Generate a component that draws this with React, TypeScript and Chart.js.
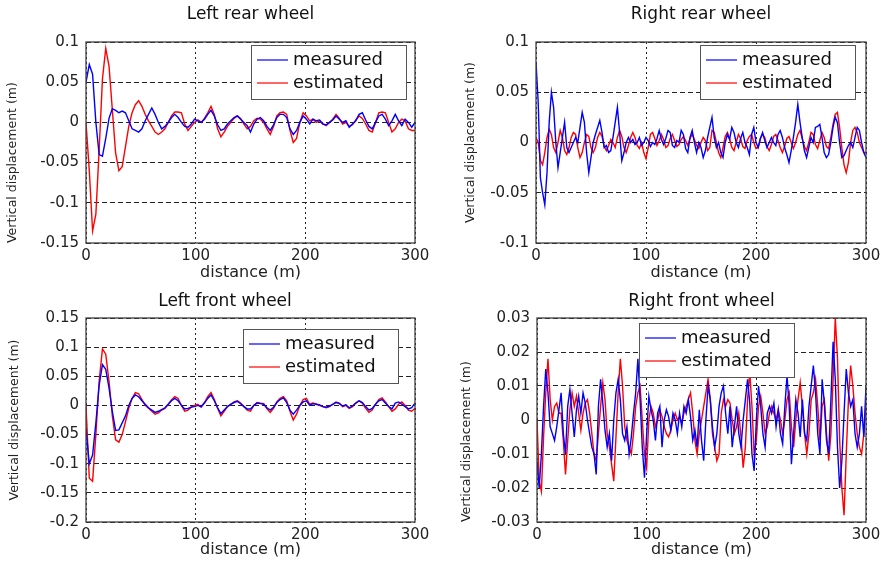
import React, { useEffect, useRef } from 'react';
import { Chart, registerables } from 'chart.js';

Chart.register(...registerables);

// ---------------- DATA ----------------
const DIST_3M = [
  0, 3, 6, 9, 12, 15, 18, 21, 24, 27, 30, 33, 36, 39, 42, 45, 48, 51, 54, 57,
  60, 63, 66, 69, 72, 75, 78, 81, 84, 87, 90, 93, 96, 99, 102, 105, 108, 111, 114, 117,
  120, 123, 126, 129, 132, 135, 138, 141, 144, 147, 150, 153, 156, 159, 162, 165, 168, 171, 174, 177,
  180, 183, 186, 189, 192, 195, 198, 201, 204, 207, 210, 213, 216, 219, 222, 225, 228, 231, 234, 237,
  240, 243, 246, 249, 252, 255, 258, 261, 264, 267, 270, 273, 276, 279, 282, 285, 288, 291, 294, 297,
  300,
];

const DIST_2M = [
  0, 2, 4, 6, 8, 10, 12, 14, 16, 18, 20, 22, 24, 26, 28, 30, 32, 34, 36, 38,
  40, 42, 44, 46, 48, 50, 52, 54, 56, 58, 60, 62, 64, 66, 68, 70, 72, 74, 76, 78,
  80, 82, 84, 86, 88, 90, 92, 94, 96, 98, 100, 102, 104, 106, 108, 110, 112, 114, 116, 118,
  120, 122, 124, 126, 128, 130, 132, 134, 136, 138, 140, 142, 144, 146, 148, 150, 152, 154, 156, 158,
  160, 162, 164, 166, 168, 170, 172, 174, 176, 178, 180, 182, 184, 186, 188, 190, 192, 194, 196, 198,
  200, 202, 204, 206, 208, 210, 212, 214, 216, 218, 220, 222, 224, 226, 228, 230, 232, 234, 236, 238,
  240, 242, 244, 246, 248, 250, 252, 254, 256, 258, 260, 262, 264, 266, 268, 270, 272, 274, 276, 278,
  280, 282, 284, 286, 288, 290, 292, 294, 296, 298, 300,
];

// Left rear wheel (3 m spacing)
const LR_MEASURED = [
  0.05, 0.072, 0.06, 0.0, -0.04, -0.042, -0.02, 0.005, 0.017, 0.015,
  0.012, 0.014, 0.012, 0.002, -0.008, -0.01, -0.012, -0.008, 0.002, 0.01,
  0.018, 0.01, 0.0, -0.008, -0.005, 0.0, 0.006, 0.01, 0.006, 0.0,
  -0.005, -0.006, -0.002, 0.004, 0.002, 0.0, 0.004, 0.01, 0.015, 0.008,
  -0.003, -0.01, -0.008, -0.002, 0.002, 0.006, 0.008, 0.004, 0.0, -0.004,
  -0.012, -0.002, 0.004, 0.006, 0.002, -0.005, -0.01, -0.003, 0.006, 0.01,
  0.01, 0.006, -0.008, -0.015, -0.01, 0.0, 0.008, 0.004, -0.002, 0.004,
  0.002, 0.003, -0.002, -0.003, 0.0, 0.003, 0.008, 0.004, 0.0, 0.002,
  -0.006, -0.002, 0.002, 0.01, 0.012, 0.003, -0.005, -0.008, 0.0, 0.008,
  0.01, 0.004, -0.004, 0.002, 0.01, 0.002, -0.004, 0.004, 0.0, -0.006,
  0.0,
];
const LR_ESTIMATED = [
  0.0, -0.06, -0.135, -0.114, -0.034, 0.054, 0.092, 0.07, 0.016, -0.038,
  -0.06, -0.055, -0.03, -0.005, 0.012, 0.022, 0.027, 0.02, 0.01, 0.002,
  -0.005, -0.012, -0.015, -0.012, -0.008, 0.0, 0.008, 0.013, 0.013, 0.012,
  -0.002, -0.01, -0.005, 0.0, 0.003, 0.0, 0.005, 0.012, 0.02, 0.01,
  -0.008, -0.018, -0.012, -0.005, 0.0, 0.005, 0.008, 0.005, -0.002, -0.008,
  -0.005, 0.002, 0.005, 0.004, 0.0, -0.008, -0.015, -0.005, 0.008, 0.012,
  0.013, 0.01, -0.01, -0.025, -0.02, 0.0, 0.012, 0.008, 0.002, 0.004,
  0.0, 0.002, -0.002, -0.004, 0.0, 0.004, 0.01, 0.005, -0.002, 0.0,
  -0.005, -0.003, 0.003, 0.008, 0.005, -0.002, -0.01, -0.012, 0.0, 0.012,
  0.013, 0.012, 0.0, -0.012, -0.008, 0.0, 0.004, 0.002, -0.008, -0.01,
  -0.01,
];

// Right rear wheel (2 m spacing)
const RR_MEASURED = [
  0.08, 0.04, -0.035, -0.05, -0.062, -0.03, 0.02, 0.05, 0.035, 0.0,
  -0.025, -0.01, 0.005, 0.02, -0.005, -0.01, -0.005, 0.0, 0.005, 0.0,
  0.015, 0.03, 0.02, -0.01, -0.03, -0.015, 0.0, 0.008, 0.015, 0.022,
  0.01, -0.005, -0.003, -0.01, -0.008, 0.005, 0.02, 0.035, 0.01, -0.018,
  -0.01, 0.0, 0.005, 0.0, 0.003, -0.002, 0.0, 0.005, -0.003, 0.0,
  0.005, 0.002, -0.004, 0.0, -0.002, 0.004, 0.012, 0.003, -0.002, 0.004,
  0.012, 0.01, -0.003, -0.005, 0.002, 0.0, 0.012, 0.008, -0.006, -0.01,
  0.005, 0.012, 0.0, -0.01, 0.0, -0.005, -0.015, -0.008, 0.005, 0.015,
  0.025, 0.005, -0.005, 0.0, -0.01, -0.015, 0.0, 0.008, 0.003, 0.015,
  0.01, 0.0, -0.005, 0.004, 0.01, 0.0, -0.005, -0.012, 0.008, 0.015,
  0.0, -0.005, 0.004, 0.01, 0.002, -0.005, 0.0, 0.005, 0.0, -0.003,
  0.008, 0.012, 0.005, -0.005, -0.012, -0.02, -0.008, 0.005, 0.02, 0.038,
  0.02, 0.005, -0.008, -0.015, -0.005, 0.005, 0.0, 0.015, 0.016, 0.018,
  0.005, -0.01, -0.015, -0.012, 0.0, 0.015, 0.025, 0.02, 0.0, -0.015,
  -0.013, -0.008, -0.003, 0.0, -0.005, 0.005, 0.015, 0.012, 0.0, -0.01,
  -0.015,
];
const RR_ESTIMATED = [
  0.005, 0.0, -0.018, -0.022, -0.01, 0.005, 0.013, 0.008, -0.005, -0.01,
  0.0, 0.012, 0.005, -0.008, -0.012, -0.005, 0.005, 0.01, 0.008, -0.005,
  -0.015, -0.01, 0.0, 0.008, 0.006, -0.005, -0.01, -0.005, 0.005, 0.01,
  0.006, -0.004, -0.008, -0.003, 0.003, 0.0, -0.005, 0.005, 0.012, 0.006,
  -0.005, -0.01, -0.003, 0.005, 0.01, 0.005, -0.003, -0.006, 0.0, -0.01,
  -0.016, -0.005, 0.008, 0.01, 0.004, -0.003, 0.002, 0.008, 0.003, -0.005,
  -0.003, 0.004, 0.008, 0.002, -0.004, -0.002, 0.003, 0.006, 0.002, -0.003,
  0.004, 0.008, 0.003, -0.003, -0.006, 0.0, 0.005, 0.002, -0.008, -0.005,
  0.012, 0.01, 0.0, -0.01, -0.015, -0.005, 0.006, 0.01, 0.004, -0.005,
  -0.008, 0.0, 0.008, 0.004, -0.004, -0.006, 0.002, 0.006, 0.008, 0.0,
  -0.006, -0.005, 0.004, 0.008, 0.005, -0.004, -0.008, -0.002, 0.006, 0.008,
  0.002, -0.005, -0.01, -0.004, 0.004, 0.006, 0.0, -0.006, 0.0, 0.008,
  0.012, 0.004, -0.004, -0.008, 0.0, 0.01, 0.008, -0.002, -0.006, 0.002,
  0.01, 0.005, -0.004, -0.006, 0.005, 0.018, 0.028, 0.03, 0.015, -0.005,
  -0.022, -0.03, -0.02, 0.0, 0.012, 0.015, 0.01, 0.0, -0.005, -0.01,
  -0.01,
];

// Left front wheel (3 m spacing)
const LF_MEASURED = [
  -0.04, -0.1, -0.085, -0.03, 0.035, 0.07, 0.062, 0.03, -0.01, -0.043,
  -0.042, -0.03, -0.018, 0.0, 0.012, 0.018, 0.015, 0.008, 0.002, -0.004,
  -0.008, -0.012, -0.01, -0.007, -0.004, 0.002, 0.008, 0.012, 0.008, 0.0,
  -0.006, -0.005, -0.003, -0.002, 0.0, -0.002, 0.004, 0.012, 0.018, 0.008,
  -0.004, -0.014, -0.008, -0.002, 0.002, 0.005, 0.007, 0.003, -0.002, -0.006,
  -0.006, 0.0, 0.004, 0.003, 0.002, -0.004, -0.008, -0.003, 0.005, 0.01,
  0.013, 0.005, -0.008, -0.015, -0.008, 0.0, 0.006, 0.008, 0.0, 0.003,
  0.002, 0.001, -0.002, -0.003, -0.001, 0.002, 0.005, 0.003, -0.001, 0.001,
  -0.004, -0.001, 0.004, 0.008, 0.005, -0.002, -0.008, -0.005, 0.002, 0.008,
  0.01, 0.004, -0.002, -0.006, 0.004, 0.006, 0.002, -0.002, -0.006, -0.004,
  0.004,
];
const LF_ESTIMATED = [
  0.0, -0.125, -0.13, -0.05, 0.042, 0.097, 0.088, 0.041, -0.018, -0.059,
  -0.063, -0.05, -0.028, -0.005, 0.012, 0.022, 0.02, 0.01, 0.0, -0.005,
  -0.01, -0.015, -0.013, -0.008, -0.005, 0.002, 0.01, 0.015, 0.012, 0.0,
  -0.01, -0.008, -0.003, 0.0, 0.002, -0.003, 0.005, 0.015, 0.022, 0.01,
  -0.005, -0.018, -0.01, -0.002, 0.002, 0.006, 0.008, 0.004, -0.002, -0.008,
  -0.01, 0.0, 0.005, 0.004, 0.003, -0.006, -0.012, -0.005, 0.006, 0.012,
  0.015, 0.008, -0.01, -0.025, -0.015, 0.0, 0.01, 0.012, 0.002, 0.004,
  0.002, 0.0, -0.002, -0.004, -0.002, 0.002, 0.006, 0.004, -0.002, 0.0,
  -0.005, -0.002, 0.004, 0.008, 0.004, -0.005, -0.012, -0.008, 0.002, 0.01,
  0.013, 0.006, -0.002, -0.01, -0.006, 0.002, 0.006, 0.0, -0.008, -0.01,
  -0.005,
];

// Right front wheel (2 m spacing)
const RF_MEASURED = [
  -0.012, -0.02, -0.01, 0.004, 0.015, 0.008, -0.002, -0.004, -0.006, -0.002,
  0.003, 0.008, -0.004, -0.01, 0.004, 0.009, 0.002, -0.005, 0.003, 0.007,
  0.002, 0.008, 0.005, 0.0, -0.004, -0.008, -0.01, -0.016, 0.004, 0.012,
  0.005, -0.003, -0.008, -0.004, -0.012, 0.0, 0.008, 0.012, 0.006, -0.004,
  -0.006, -0.002, -0.01, -0.005, 0.002, 0.008, 0.018, 0.006, -0.008, -0.017,
  -0.004, 0.007, 0.003, 0.0, -0.006, 0.002, 0.004, -0.008, 0.0, 0.003,
  0.001, -0.003, 0.002, 0.0, -0.004, 0.002, -0.002, 0.004, 0.002, 0.006,
  0.001, -0.006, -0.003, -0.008, 0.003, -0.006, -0.012, 0.0, 0.01, 0.006,
  -0.002, -0.008, -0.004, 0.004, 0.008, 0.01, 0.002, -0.004, 0.004, -0.008,
  -0.002, 0.004, -0.004, -0.008, 0.0, 0.006, 0.012, 0.005, -0.01, -0.015,
  0.0, 0.01, 0.004, -0.004, -0.008, 0.002, 0.004, 0.002, 0.005, -0.002,
  0.003, -0.004, -0.007, 0.004, 0.013, 0.004, -0.013, -0.004, 0.006, 0.002,
  -0.005, 0.006, -0.004, -0.006, 0.004, 0.01, 0.016, 0.008, -0.004, -0.01,
  0.012, 0.005, -0.006, -0.01, 0.006, 0.023, 0.012, -0.008, -0.02, -0.012,
  0.002, 0.015, 0.008, 0.004, 0.006, -0.004, -0.008, -0.004, 0.004, -0.005,
  0.01,
];
const RF_ESTIMATED = [
  0.0, -0.018, -0.021, -0.005, 0.008, 0.018, 0.006, 0.0, 0.004, 0.005,
  0.002, 0.002, -0.006, -0.016, -0.006, 0.003, 0.008, 0.004, 0.007, 0.002,
  -0.003, 0.002, 0.005, 0.006, 0.002, -0.004, -0.01, -0.012, -0.004, 0.004,
  0.011, 0.006, -0.004, -0.008, -0.013, -0.018, -0.005, 0.008, 0.018, 0.01,
  -0.002, -0.006, -0.008, -0.01, -0.004, 0.004, 0.008, 0.01, 0.0, -0.01,
  -0.014, 0.0, 0.004, 0.002, -0.002, 0.0, 0.003, 0.001, -0.002, -0.004,
  -0.005, -0.003, 0.0, 0.002, 0.0, 0.001, -0.001, 0.002, 0.004, 0.006,
  0.008, 0.002, -0.006, -0.01, -0.004, 0.0, 0.004, 0.008, 0.012, 0.006,
  -0.004, -0.008, -0.012, -0.01, 0.002, 0.006, 0.004, 0.006, 0.005, 0.0,
  -0.004, -0.002, 0.002, -0.005, -0.014, -0.008, 0.006, 0.014, 0.004, -0.01,
  -0.006, 0.004, 0.007, 0.002, -0.004, -0.002, 0.002, 0.004, 0.002, 0.0,
  0.003, 0.0, -0.004, 0.0, 0.006, 0.008, -0.002, -0.008, 0.0, 0.006,
  0.011, 0.004, -0.004, -0.01, -0.004, 0.006, 0.008, 0.012, 0.004, -0.006,
  0.004, 0.006, -0.004, -0.012, -0.004, 0.012, 0.03, 0.018, -0.006, -0.02,
  -0.028, -0.01, 0.006, 0.016, 0.01, 0.002, -0.004, -0.008, -0.01, -0.004,
  0.005,
];

const X_TICKS = [0, 100, 200, 300];
const LR_Y_TICKS = [-0.15, -0.1, -0.05, 0, 0.05, 0.1];
const RR_Y_TICKS = [-0.1, -0.05, 0, 0.05, 0.1];
const LF_Y_TICKS = [-0.2, -0.15, -0.1, -0.05, 0, 0.05, 0.1, 0.15];
const RF_Y_TICKS = [-0.03, -0.02, -0.01, 0, 0.01, 0.02, 0.03];

const SERIES_LABELS = ['measured', 'estimated'];
const X_TITLE = 'distance (m)';
const Y_TITLE = 'Vertical displacement (m)';

// ---------------- STYLE ----------------
const FONT = "'DejaVu Sans', 'Liberation Sans', sans-serif";
const BLUE = '#0000ff';
const RED = '#ff0000';
const GRID = '#222222';
const TEXT = '#222222';

type PanelSpec = {
  title: string;
  x: number[];
  measured: number[];
  estimated: number[];
  yTicks: number[];
  left: number;
  top: number;
  width: number;
  height: number;
  padLeft: number;
  padRight: number;
  yAxisWidth: number;
  xAxisHeight: number;
  titleHeight: number;
  titleCenter: number;
  titleFull: boolean;
  yTitlePad: number;
  yTitleAlign: 'start' | 'center' | 'end';
  xTitlePad: number;
  legendDx: number;
  legendDy: number;
};

const PANELS: PanelSpec[] = [
  {
    title: 'Left rear wheel', x: DIST_3M, measured: LR_MEASURED, estimated: LR_ESTIMATED, yTicks: LR_Y_TICKS,
    left: 0, top: 0, width: 440, height: 281, padLeft: 0, padRight: 25, yAxisWidth: 86, xAxisHeight: 38,
    titleHeight: 42, titleCenter: 15, titleFull: false, yTitlePad: 5.5, yTitleAlign: 'start', xTitlePad: 0,
    legendDx: 165, legendDy: 3,
  },
  {
    title: 'Right rear wheel', x: DIST_2M, measured: RR_MEASURED, estimated: RR_ESTIMATED, yTicks: RR_Y_TICKS,
    left: 443, top: 0, width: 442, height: 281, padLeft: 0, padRight: 19, yAxisWidth: 93, xAxisHeight: 38,
    titleHeight: 42, titleCenter: 15, titleFull: false, yTitlePad: 20.5, yTitleAlign: 'center', xTitlePad: 0,
    legendDx: 164, legendDy: 3,
  },
  {
    title: 'Left front wheel', x: DIST_3M, measured: LF_MEASURED, estimated: LF_ESTIMATED, yTicks: LF_Y_TICKS,
    left: 0, top: 281, width: 440, height: 281, padLeft: 35, padRight: 25, yAxisWidth: 51, xAxisHeight: 40,
    titleHeight: 37, titleCenter: 21, titleFull: true, yTitlePad: -27.5, yTitleAlign: 'center', xTitlePad: 4,
    legendDx: 157, legendDy: 11,
  },
  {
    title: 'Right front wheel', x: DIST_2M, measured: RF_MEASURED, estimated: RF_ESTIMATED, yTicks: RF_Y_TICKS,
    left: 443, top: 281, width: 442, height: 281, padLeft: 0, padRight: 19, yAxisWidth: 94, xAxisHeight: 40,
    titleHeight: 37, titleCenter: 21, titleFull: false, yTitlePad: 16, yTitleAlign: 'start', xTitlePad: 4,
    legendDx: 102, legendDy: 5,
  },
];

const fmt = (v: number | string) => String(Number(Number(v).toFixed(4)));

function makeBoxPlugin(spec: PanelSpec) {
  return {
    id: 'boxAndLegend',
    afterDraw(chart: any) {
      const { ctx, chartArea: a } = chart;
      ctx.save();
      // frame
      ctx.strokeStyle = '#404040';
      ctx.lineWidth = 1.3;
      ctx.setLineDash([]);
      ctx.strokeRect(a.left, a.top, a.right - a.left, a.bottom - a.top);
      // legend box
      const bx = a.left + spec.legendDx;
      const by = a.top + spec.legendDy;
      const bw = 155;
      const bh = 54;
      ctx.fillStyle = '#ffffff';
      ctx.fillRect(bx, by, bw, bh);
      ctx.strokeStyle = '#555555';
      ctx.lineWidth = 1;
      ctx.strokeRect(bx + 0.5, by + 0.5, bw, bh);
      const colors = [BLUE, RED];
      const rows = [15, 38];
      ctx.font = `18px ${FONT}`;
      ctx.textBaseline = 'middle';
      ctx.textAlign = 'left';
      SERIES_LABELS.forEach((lbl, i) => {
        const y = by + rows[i];
        ctx.strokeStyle = colors[i];
        ctx.lineWidth = 1.2;
        ctx.beginPath();
        ctx.moveTo(bx + 6, y);
        ctx.lineTo(bx + 37, y);
        ctx.stroke();
        ctx.fillStyle = '#111111';
        ctx.fillText(lbl, bx + 42, y);
      });
      ctx.restore();
    },
  };
}

function Panel({ spec }: { spec: PanelSpec }) {
  const ref = useRef<HTMLCanvasElement>(null);
  useEffect(() => {
    const canvas = ref.current;
    if (!canvas) return;
    const toPoints = (ys: number[]) => spec.x.map((d, i) => ({ x: d, y: ys[i] }));
    const yMin = spec.yTicks[0];
    const yMax = spec.yTicks[spec.yTicks.length - 1];
    const chart = new Chart(canvas, {
      type: 'line',
      data: {
        datasets: [
          {
            label: SERIES_LABELS[0],
            data: toPoints(spec.measured),
            borderColor: BLUE,
            borderWidth: 1.4,
            pointRadius: 0,
            tension: 0,
            fill: false,
          },
          {
            label: SERIES_LABELS[1],
            data: toPoints(spec.estimated),
            borderColor: RED,
            borderWidth: 1.4,
            pointRadius: 0,
            tension: 0,
            fill: false,
          },
        ],
      },
      options: {
        responsive: false,
        animation: false,
        devicePixelRatio: 1,
        layout: { padding: { left: spec.padLeft, right: spec.padRight, top: 0, bottom: 0 } },
        plugins: {
          legend: { display: false },
          tooltip: { enabled: false },
          title: {
            display: true,
            text: spec.title,
            fullSize: spec.titleFull,
            color: '#111111',
            font: { family: FONT, size: 17, lineHeight: 1.2, weight: 'normal' },
            padding: {
              top: spec.titleCenter - 10.2,
              bottom: spec.titleHeight - spec.titleCenter - 10.2,
            },
          },
        },
        scales: {
          x: {
            type: 'linear',
            min: 0,
            max: 300,
            afterFit: (s: any) => {
              s.height = spec.xAxisHeight;
            },
            afterBuildTicks: (s: any) => {
              s.ticks = X_TICKS.map((v) => ({ value: v }));
            },
            grid: { color: GRID, lineWidth: 1, drawTicks: false },
            border: { display: false, dash: [2, 3] },
            ticks: {
              padding: 4,
              color: TEXT,
              font: { family: FONT, size: 15 },
              maxRotation: 0,
              autoSkip: false,
              callback: (v: any) => fmt(v),
            },
            title: {
              display: true,
              text: X_TITLE,
              color: TEXT,
              font: { family: FONT, size: 16, lineHeight: 1 },
              padding: { top: 0, bottom: spec.xTitlePad },
            },
          },
          y: {
            type: 'linear',
            min: yMin,
            max: yMax,
            afterFit: (s: any) => {
              s.width = spec.yAxisWidth;
            },
            afterBuildTicks: (s: any) => {
              s.ticks = spec.yTicks.map((v) => ({ value: v }));
            },
            grid: { color: GRID, lineWidth: 1, drawTicks: false },
            border: { display: false, dash: [5, 3] },
            ticks: {
              padding: 7,
              color: TEXT,
              font: { family: FONT, size: 15 },
              autoSkip: false,
              callback: (v: any) => fmt(v),
            },
            title: {
              display: true,
              text: Y_TITLE,
              align: spec.yTitleAlign,
              color: TEXT,
              font: { family: FONT, size: 12.5, lineHeight: 1.2 },
              padding: { top: spec.yTitlePad, bottom: 0 },
            },
          },
        },
      },
      plugins: [makeBoxPlugin(spec)],
    } as any);
    return () => chart.destroy();
  }, [spec]);

  return (
    <div
      style={{
        position: 'absolute',
        left: spec.left,
        top: spec.top,
        width: spec.width,
        height: spec.height,
      }}
    >
      <canvas ref={ref} width={spec.width} height={spec.height} style={{ display: 'block' }} />
    </div>
  );
}

export default function App() {
  return (
    <div
      style={{
        position: 'absolute',
        left: 0,
        top: 0,
        width: 885,
        height: 562,
        background: '#ffffff',
        overflow: 'hidden',
      }}
    >
      {PANELS.map((p) => (
        <Panel key={p.title} spec={p} />
      ))}
    </div>
  );
}
